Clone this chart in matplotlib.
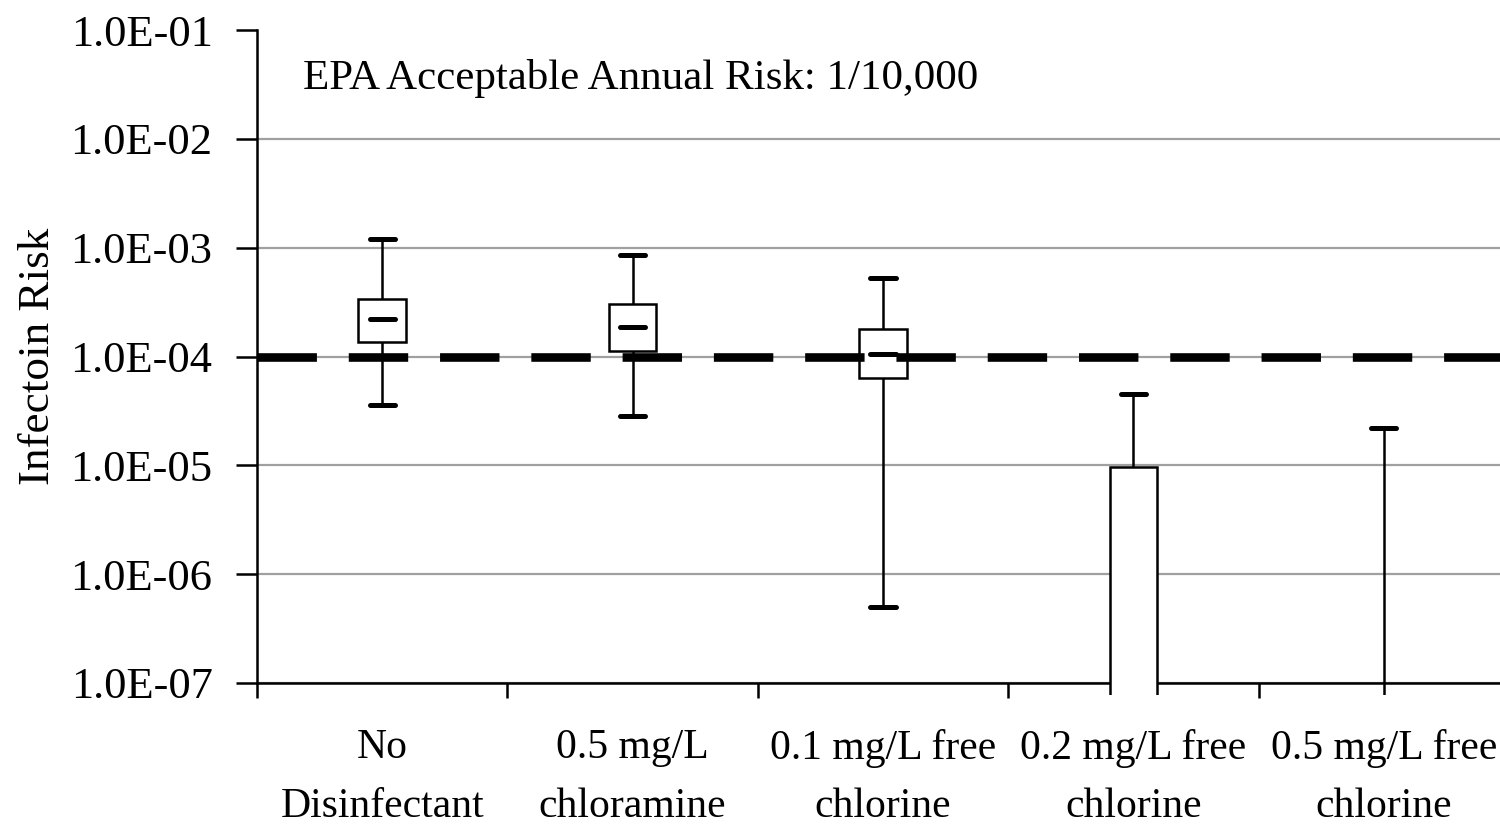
import numpy as np
import matplotlib
matplotlib.use('Agg')
import matplotlib.pyplot as plt
from matplotlib.ticker import FixedLocator, NullLocator, FuncFormatter
from matplotlib.transforms import Bbox, TransformedBbox

# =============================================================================
# DATA (values below 1E-07 are hidden in the original)
# =============================================================================
categories = ['No\nDisinfectant', '0.5 mg/L\nchloramine', '0.1 mg/L free\nchlorine',
              '0.2 mg/L free\nchlorine', '0.5 mg/L free\nchlorine']
whisk_hi = [1.2e-3, 8.5e-4, 5.3e-4, 4.5e-5, 2.2e-5]
q3       = [3.4e-4, 3.05e-4, 1.8e-4, 9.7e-6, 5.0e-8]
median   = [2.2e-4, 1.85e-4, 1.05e-4, 5.0e-8, 1.0e-9]
q1       = [1.35e-4, 1.12e-4, 6.3e-5, 1.0e-9, 1.0e-10]
whisk_lo = [3.6e-5, 2.85e-5, 5.0e-7, 1.0e-10, 1.0e-11]
epa_limit = 1e-4
yticks = [1e-7, 1e-6, 1e-5, 1e-4, 1e-3, 1e-2, 1e-1]

plt.rcParams['font.family'] = ['Liberation Serif', 'DejaVu Serif']
plt.rcParams['font.size'] = 30

fig = plt.figure(figsize=(15, 8.25), dpi=100)
ax = fig.add_axes([257/1500, 142/825, 1252/1500, 653/825])

x = np.arange(1, len(categories) + 1)
box_w = 0.19
cap_w = 0.10

# let the boxes poke slightly below the axis like the original
clip = TransformedBbox(Bbox([[0, -0.018], [1, 1]]), ax.transAxes)

wl = ax.vlines(x, whisk_lo, q1, color='black', lw=1.8, zorder=3)
wh = ax.vlines(x, q3, whisk_hi, color='black', lw=1.8, zorder=3)
bars = ax.bar(x, np.array(q3) - np.array(q1), bottom=q1, width=box_w,
              color='white', edgecolor='black', lw=1.8, zorder=4)
caps = ax.hlines(whisk_hi + whisk_lo, np.concatenate([x, x]) - cap_w/2,
                 np.concatenate([x, x]) + cap_w/2, color='black', lw=3.6, zorder=5)
meds = ax.hlines(median, x - cap_w/2, x + cap_w/2, color='black', lw=3.6, zorder=5)
caps.set_capstyle('round')
meds.set_capstyle('round')
for art in [wl, wh, caps, meds] + list(bars):
    art.set_clip_box(clip)

# EPA limit
ax.axhline(epa_limit, color='black', lw=6.2, linestyle=(0, (6.9, 3.7)),
           dash_capstyle='butt', zorder=6)
ax.text(0.037, 0.926, 'EPA Acceptable Annual Risk: 1/10,000', transform=ax.transAxes,
        va='center', ha='left', fontsize=31)

# axes
ax.set_yscale('log')
ax.set_ylim(1e-7, 1e-1)
ax.set_xlim(0.5, 5.5)
ax.yaxis.set_major_locator(FixedLocator(yticks))
ax.yaxis.set_minor_locator(NullLocator())
ax.yaxis.set_major_formatter(FuncFormatter(lambda v, p: f'{v:.1E}'))
ax.set_ylabel('Infectoin Risk', labelpad=9, fontsize=32.5)

ax.xaxis.set_major_locator(FixedLocator(np.arange(0.5, 6.0, 1.0)))
ax.xaxis.set_minor_locator(FixedLocator(x))
ax.xaxis.set_major_formatter(FuncFormatter(lambda v, p: ''))
ax.set_xticklabels(categories, minor=True, linespacing=1.68)
ax.tick_params(axis='x', which='major', length=11, width=1.8, direction='out')
ax.tick_params(axis='x', which='minor', length=0, pad=33)
ax.tick_params(axis='y', which='major', length=15, width=1.8, direction='out',
               pad=17, labelsize=32)

ax.grid(True, axis='y', color='#a0a0a0', lw=1.6, zorder=0)
ax.get_ygridlines()[-1].set_visible(False)
ax.set_axisbelow(True)

for s in ['top', 'right']:
    ax.spines[s].set_visible(False)
for s in ['left', 'bottom']:
    ax.spines[s].set_linewidth(1.8)

fig.savefig('out.png', dpi=100)
